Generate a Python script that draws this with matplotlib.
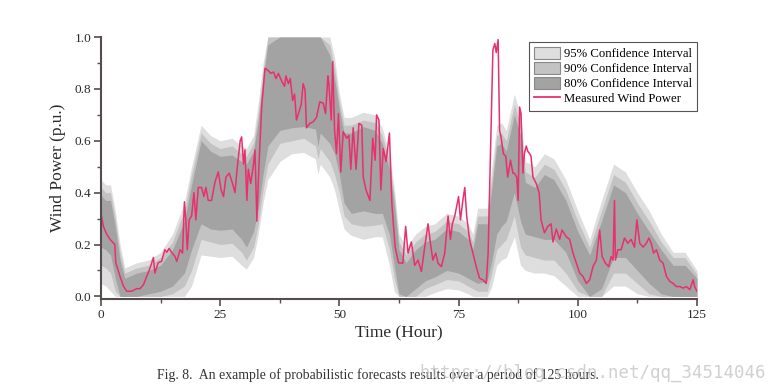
import matplotlib
matplotlib.use("Agg")
import matplotlib.pyplot as plt
from matplotlib.patches import Patch
from matplotlib.lines import Line2D
from matplotlib.ticker import MultipleLocator

plt.rcParams['font.family'] = ['Liberation Serif', 'DejaVu Serif']

# measured wind power (p.u.)
t_meas = [0, 0.5, 1.2, 1.9, 2.9, 3.1, 4, 4.7, 5.4, 6.4,
          7.5, 8.2, 8.9, 9.6, 10.3, 11, 11.3, 12, 12.7, 13.4,
          13.8, 14.3, 14.8, 15.5, 15.9, 16.6, 17.1, 17.5, 17.8, 18.1,
          18.5, 19, 19.5, 19.9, 20.4, 21.1, 21.6, 22, 22.5, 23.2,
          23.9, 24.6, 25.2, 25.7, 26.2, 26.9, 27.6, 28.1, 28.6, 29.2,
          29.5, 29.9, 30.2, 30.6, 30.9, 31.4, 32, 32.3, 32.7, 33.1,
          33.7, 34.4, 35.1, 35.6, 36.2, 36.7, 37.2, 37.9, 38.5, 38.8,
          39.3, 39.7, 40.2, 40.6, 41, 41.5, 42, 42.4, 42.8, 43.1,
          43.8, 44.5, 45.2, 45.9, 46.6, 47.1, 47.6, 47.8, 48.3, 48.6,
          49, 49.4, 49.8, 50.3, 50.8, 51.5, 52, 52.4, 52.9, 53.5,
          54.1, 54.7, 55, 55.6, 56.4, 57, 57.5, 57.8, 58.3, 58.7,
          59.2, 59.8, 60.5, 61, 61.7, 62.4, 63.3, 63.9, 64.4, 65.1,
          65.8, 66.5, 67.2, 67.9, 68.6, 69.1, 69.6, 70.2, 70.7, 71.4,
          72.1, 72.8, 73.3, 73.7, 74.2, 75, 75.4, 75.9, 76.3, 76.7,
          77.3, 78, 78.7, 79.4, 80.1, 80.8, 81.2, 81.7, 82.2, 82.6,
          82.9, 83.3, 83.6, 83.9, 84.4, 84.9, 85.3, 85.9, 86.4, 86.7,
          87.2, 87.5, 87.8, 88.1, 88.5, 88.8, 89.2, 89.5, 89.9, 90.2,
          90.6, 91.3, 91.9, 92.3, 93, 93.7, 94.4, 94.8, 95.5, 96.2,
          96.7, 97.6, 98.3, 99, 99.7, 100.4, 101.1, 101.8, 102.5, 103.2,
          103.9, 104.6, 105.1, 105.8, 106.5, 107, 107.4, 107.7, 107.9, 108.4,
          109.1, 109.8, 110.5, 111.2, 111.9, 112.4, 113, 113.7, 114.4, 114.9,
          115.4, 115.9, 116.5, 117.2, 117.9, 118.6, 119.3, 120, 120.7, 121.4,
          122.1, 122.8, 123.5, 124.2, 124.5, 125]
p_meas = [.32, .27, .24, .22, .20, .13, .077, .04, .02, .02,
          .03, .03, .045, .077, .11, .15, .09, .13, .135, .18,
          .17, .185, .17, .155, .135, .18, .167, .365, .295, .18,
          .295, .31, .40, .295, .42, .42, .385, .42, .37, .37,
          .44, .48, .41, .385, .46, .475, .435, .40, .50, .60,
          .615, .51, .565, .37, .49, .435, .51, .565, .29, .49,
          .73, .88, .87, .86, .865, .84, .86, .83, .81, .85,
          .82, .84, .755, .78, .68, .71, .74, .82, .795, .65,
          .667, .673, .69, .75, .745, .705, .85, .82, .68, .905,
          .64, .55, .705, .48, .635, .61, .62, .49, .65, .49,
          .667, .66, .46, .41, .37, .61, .525, .70, .68, .41,
          .57, .52, .63, .36, .19, .13, .128, .27, .167, .21,
          .12, .14, .096, .19, .28, .205, .14, .167, .128, .115,
          .167, .31, .22, .28, .31, .385, .295, .37, .42, .31,
          .22, .167, .115, .07, .064, .05, .167, .55, .95, .975,
          .94, .99, .64, .615, .55, .54, .46, .525, .475, .475,
          .46, .37, .73, .705, .475, .55, .58, .56, .55, .54,
          .46, .435, .40, .295, .245, .27, .28, .21, .26, .22,
          .256, .23, .22, .167, .128, .09, .077, .05, .064, .115,
          .14, .256, .154, .128, .115, .154, .14, .37, .14, .18,
          .18, .225, .205, .22, .19, .295, .205, .19, .205, .225,
          .205, .167, .18, .14, .128, .077, .058, .05, .038, .038,
          .032, .038, .026, .064, .038, .02]

# confidence interval bounds
t_band = [0, 1, 2, 3, 4, 5, 7.5, 10, 12.5, 15,
          17.5, 19, 21, 23, 25, 27.5, 29.5, 30.5, 32, 33,
          34, 35, 37.5, 40, 42.5, 45, 45.5, 46, 48, 49,
          50, 51, 52.5, 55, 57.5, 59, 60.5, 61.5, 62.5, 64,
          66, 68, 70, 72.5, 75, 77, 78, 79, 81, 82,
          83, 84, 85, 86.7, 88, 89, 91, 93, 95, 97.5,
          100, 102.5, 105, 107.5, 110, 112.5, 115, 117.5, 120, 122.5,
          125]
up95 = [.45, .43, .43, .33, .20, .11, .13, .14, .17, .24,
        .36, .50, .66, .62, .60, .61, .58, .57, .62, .75,
        .90, 1, 1, 1, 1, 1, 1, 1, 1, .92,
        .78, .69, .69, .71, .70, .65, .55, .42, .24, .19,
        .24, .27, .28, .32, .31, .28, .24, .34, .34, .50,
        .66, .67, .64, .78, .70, .52, .50, .55, .53, .45,
        .33, .22, .37, .51, .48, .40, .33, .24, .17, .17,
        .10]
up90 = [.42, .40, .40, .30, .17, .09, .11, .12, .15, .21,
        .33, .47, .63, .59, .57, .58, .55, .54, .59, .71,
        .87, 1, 1, 1, 1, 1, 1, 1, .97, .88,
        .75, .66, .66, .68, .67, .62, .52, .39, .21, .16,
        .21, .24, .25, .29, .28, .25, .21, .31, .31, .46,
        .62, .63, .60, .74, .66, .48, .46, .51, .49, .41,
        .29, .19, .33, .47, .44, .36, .29, .21, .15, .15,
        .085]
up80 = [.39, .37, .37, .27, .14, .07, .09, .10, .12, .18,
        .29, .43, .60, .56, .54, .545, .52, .51, .56, .68,
        .84, .97, 1, 1, 1, 1, 1, 1, .93, .84,
        .72, .63, .63, .655, .64, .59, .49, .36, .18, .13,
        .18, .21, .22, .26, .25, .22, .18, .28, .28, .42,
        .58, .59, .56, .70, .62, .44, .42, .47, .45, .37,
        .25, .16, .29, .43, .40, .32, .25, .18, .12, .12,
        .07]
lo80 = [.19, .18, .16, .07, 0, 0, 0, .01, .02, .04,
        .09, .18, .28, .26, .255, .26, .22, .19, .25, .34,
        .47, .58, .64, .65, .655, .645, .58, .63, .59, .55,
        .47, .36, .32, .33, .32, .32, .24, .12, .01, 0,
        .03, .06, .075, .10, .09, .07, .06, .05, .06, .14,
        .24, .27, .29, .40, .29, .24, .23, .22, .22, .17,
        .06, 0, .03, .15, .15, .10, .05, .01, 0, 0,
        0]
lo90 = [.12, .11, .09, .02, 0, 0, 0, 0, 0, .01,
        .04, .10, .22, .21, .20, .205, .17, .14, .19, .28,
        .41, .51, .59, .60, .61, .58, .53, .57, .52, .47,
        .40, .31, .28, .27, .275, .28, .18, .07, 0, 0,
        0, .03, .045, .065, .06, .04, .03, .02, .02, .09,
        .18, .20, .22, .31, .19, .16, .15, .14, .14, .09,
        .02, 0, 0, .09, .09, .05, .01, 0, 0, 0,
        0]
lo95 = [.05, .04, .02, 0, 0, 0, 0, 0, 0, 0,
        0, .04, .16, .155, .15, .155, .12, .105, .15, .24,
        .36, .45, .52, .55, .555, .53, .47, .51, .46, .41,
        .33, .26, .235, .22, .23, .23, .12, .02, 0, 0,
        0, 0, .015, .03, .025, .01, 0, 0, 0, .04,
        .12, .14, .15, .23, .12, .10, .09, .09, .08, .04,
        0, 0, 0, .04, .04, .01, 0, 0, 0, 0,
        0]

c95, c90, c80 = '#dedede', '#c3c3c3', '#a3a3a3'
line_c = '#e8306e'
spine_c = '#564c4c'
text_c = '#2a2a2a'

fig = plt.figure(figsize=(7.72, 3.92), dpi=100)
ax = fig.add_axes([0.1308, 0.2372, 0.772, 0.6684])

ax.fill_between(t_band, lo95, up95, color=c95, lw=0)
ax.fill_between(t_band, lo90, up90, color=c90, lw=0)
ax.fill_between(t_band, lo80, up80, color=c80, lw=0)
ax.plot(t_meas, p_meas, color=line_c, lw=1.1)

ax.set_xlim(0, 125)
ax.set_ylim(-0.01, 1.0)
ax.xaxis.set_major_locator(MultipleLocator(25))
ax.xaxis.set_minor_locator(MultipleLocator(12.5))
ax.yaxis.set_major_locator(MultipleLocator(0.2))
ax.yaxis.set_minor_locator(MultipleLocator(0.1))
ax.yaxis.set_major_formatter(matplotlib.ticker.FormatStrFormatter('%.1f'))

for s in ['top', 'right']:
    ax.spines[s].set_visible(False)
for s in ['left', 'bottom']:
    ax.spines[s].set_color(spine_c)
    ax.spines[s].set_linewidth(1.5)
ax.tick_params(which='major', direction='out', length=5, width=1.2,
               color=spine_c, labelsize=9.5, labelcolor=text_c, pad=2)
ax.tick_params(which='minor', direction='out', length=3, width=1.0,
               color=spine_c)

ax.set_xlabel('Time (Hour)', fontsize=12.5, color=text_c, labelpad=3)
ax.set_ylabel('Wind Power (p.u.)', fontsize=12.5, color=text_c, labelpad=6)

handles = [Patch(facecolor=c95, edgecolor='#888888', lw=0.8),
           Patch(facecolor=c90, edgecolor='#888888', lw=0.8),
           Patch(facecolor=c80, edgecolor='#888888', lw=0.8),
           Line2D([], [], color=line_c, lw=1.3)]
labels = ['95% Confidence Interval', '90% Confidence Interval',
          '80% Confidence Interval', 'Measured Wind Power']
leg = ax.legend(handles, labels, loc='upper right', bbox_to_anchor=(1.0, 0.98),
                borderaxespad=0, fontsize=9.2, frameon=True, fancybox=False,
                framealpha=1, edgecolor='#555555', handlelength=2.0,
                handleheight=1.0, labelspacing=0.15, handletextpad=0.3,
                borderpad=0.4)
leg.get_frame().set_linewidth(0.8)

fig.text(0.489, 0.043, 'Fig. 8.  An example of probabilistic forecasts results over a period of 125 hours.',
         ha='center', va='center', fontsize=9.9, color='#333333')
fig.text(0.543, 0.05, 'https://blog.csdn.net/qq_34514046', ha='left', va='center',
         fontsize=12.5, family='DejaVu Sans Mono', color='#c8c8c8', alpha=0.85)

fig.savefig('out.png', dpi=100)
